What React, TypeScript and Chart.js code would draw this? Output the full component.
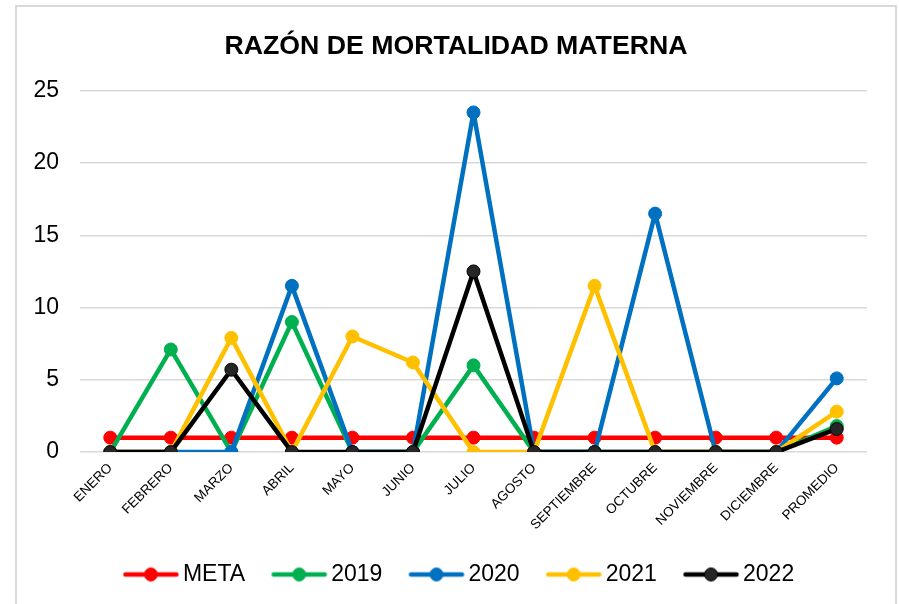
import React, { useEffect, useRef } from "react";
import { Chart, registerables } from "chart.js";

Chart.register(...registerables);

const categories = [
  "ENERO", "FEBRERO", "MARZO", "ABRIL", "MAYO", "JUNIO", "JULIO",
  "AGOSTO", "SEPTIEMBRE", "OCTUBRE", "NOVIEMBRE", "DICIEMBRE", "PROMEDIO",
];
const meta = [1, 1, 1, 1, 1, 1, 1, 1, 1, 1, 1, 1, 1];
const y2019 = [0, 7.1, 0, 9.0, 0, 0, 6.0, 0, 0, 0, 0, 0, 1.8];
const y2020 = [0, 0, 0, 11.5, 0, 0, 23.5, 0, 0, 16.5, 0, 0, 5.1];
const y2021 = [0, 0, 7.9, 0, 8.0, 6.2, 0, 0, 11.5, 0, 0, 0, 2.8];
const y2022 = [0, 0, 5.7, 0, 0, 0, 12.5, 0, 0, 0, 0, 0, 1.6];
const seriesNames = ["META", "2019", "2020", "2021", "2022"];
const yTicks = [0, 5, 10, 15, 20, 25];

const FONT = "'Liberation Sans', Arial, sans-serif";

function legendImage(color: string, fill: string): HTMLCanvasElement {
  const c = document.createElement("canvas");
  c.width = 58;
  c.height = 16;
  const g = c.getContext("2d")!;
  g.strokeStyle = color;
  g.lineWidth = 4.5;
  g.lineCap = "round";
  g.beginPath();
  g.moveTo(3.5, 8);
  g.lineTo(54.5, 8);
  g.stroke();
  g.beginPath();
  g.arc(29, 8, 6.5, 0, Math.PI * 2);
  g.fillStyle = fill;
  g.fill();
  g.lineWidth = 1;
  g.strokeStyle = color;
  g.stroke();
  return c;
}

export default function App() {
  const ref = useRef<HTMLCanvasElement | null>(null);

  useEffect(() => {
    if (!ref.current) return;
    const colors = ["#FF0000", "#00B050", "#0070C0", "#FFC000", "#000000"];
    const fills = ["#FF0000", "#00B050", "#0070C0", "#FFC000", "#262626"];
    const values = [meta, y2019, y2020, y2021, y2022];
    const imgs = colors.map((c, i) => legendImage(c, fills[i]));

    const chart = new Chart(ref.current, {
      type: "line",
      data: {
        labels: categories,
        datasets: values.map((v, i) => ({
          label: seriesNames[i],
          data: v,
          yAxisID: "y",
          order: values.length - 1 - i,
          borderColor: colors[i],
          backgroundColor: fills[i],
          pointBackgroundColor: fills[i],
          pointBorderColor: colors[i],
          pointBorderWidth: 1,
          pointRadius: 6.5,
          borderWidth: 4.5,
          borderJoinStyle: "round",
          borderCapStyle: "round",
          tension: 0,
          fill: false,
        })),
      },
      options: {
        responsive: false,
        animation: false,
        events: [],
        layout: { padding: { left: 0, right: 0, top: 0, bottom: 22 } },
        plugins: {
          title: {
            display: true,
            text: "RAZÓN DE MORTALIDAD MATERNA",
            color: "#000",
            font: { family: FONT, size: 26.7, weight: "bold", lineHeight: 1.2 },
            padding: { top: 23.4, bottom: 28.3 },
          },
          legend: {
            position: "bottom",
            labels: {
              usePointStyle: true,
              pointStyleWidth: 41,
              padding: 33.6,
              color: "#000",
              font: { family: FONT, size: 23 },
              generateLabels: (ch: any) =>
                ch.data.datasets.map((ds: any, i: number) => ({
                  text: ds.label,
                  pointStyle: imgs[i],
                  fillStyle: fills[i],
                  strokeStyle: colors[i],
                  lineWidth: 0,
                  hidden: false,
                  datasetIndex: i,
                  fontColor: "#000",
                })),
            },
          },
          tooltip: { enabled: false },
        },
        scales: {
          x: {
            offset: true,
            grid: { display: false, drawTicks: false },
            border: { display: false },
            ticks: {
              autoSkip: false,
              maxRotation: 45,
              minRotation: 45,
              padding: 8,
              color: "#000",
              font: { family: FONT, size: 13.5 },
            },
            afterFit: (s: any) => {
              s.height = 77.3;
            },
          },
          y: {
            min: 0,
            max: 25,
            afterBuildTicks: (s: any) => {
              s.ticks = yTicks.map((v) => ({ value: v }));
            },
            grid: { color: "#d9d9d9", lineWidth: 1.4, drawTicks: false },
            border: { display: false },
            ticks: {
              padding: 21,
              color: "#000",
              font: { family: FONT, size: 23 },
            },
            afterFit: (s: any) => {
              s.width = 63;
            },
          },
          y2: {
            type: "linear",
            position: "right",
            grid: { display: false, drawTicks: false },
            border: { display: false },
            ticks: { display: false },
            afterFit: (s: any) => {
              s.width = 28;
            },
          },
        },
      },
      plugins: [
        {
          id: "legendShift",
          afterLayout: (ch: any) => {
            if (ch.legend) {
              ch.legend.left += 6.3;
              ch.legend.right += 6.3;
            }
          },
        },
      ],
    });
    return () => chart.destroy();
  }, []);

  return (
    <div
      style={{
        position: "fixed",
        left: 0,
        top: 0,
        width: 899,
        height: 604,
        overflow: "hidden",
        background: "#fff",
      }}
    >
      <div
        style={{
          position: "absolute",
          left: 15,
          top: 5,
          width: 882,
          height: 640,
          border: "2px solid #d9d9d9",
          boxSizing: "border-box",
        }}
      />
      <canvas
        ref={ref}
        width={878}
        height={611}
        style={{ position: "absolute", left: 17, top: 7, display: "block" }}
      />
    </div>
  );
}
